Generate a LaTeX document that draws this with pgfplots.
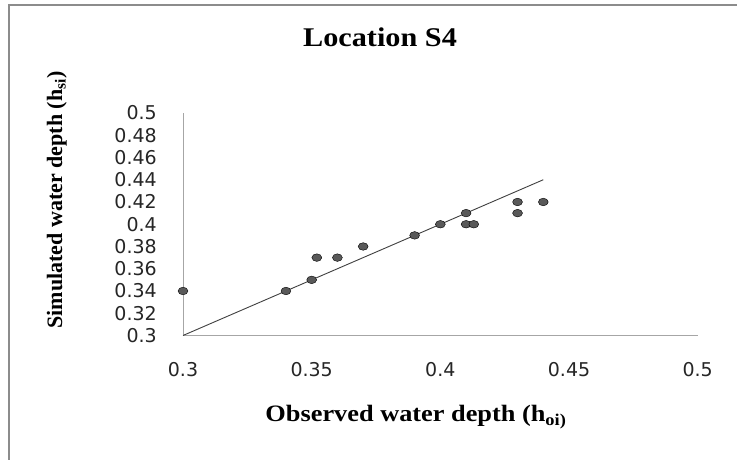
\documentclass[border=0pt]{standalone}
\usepackage{fontspec}
\setmainfont{Liberation Serif}
\newfontfamily\tickfont{DejaVu Sans}
\usepackage{graphicx}
\usepackage{pgfplots}
\pgfplotsset{compat=1.18}
\definecolor{framegray}{HTML}{8C8C8C}
\definecolor{axgray}{HTML}{A6A6A6}
\definecolor{ptgray}{HTML}{595959}
\begin{document}
\begin{tikzpicture}[x=1pt,y=1pt]
\path[use as bounding box] (0,0) rectangle (737,460);
\fill[white] (0,0) rectangle (737,460);
\draw[framegray, line width=2pt] (9,-3) -- (9,455) -- (740,455);
\begin{axis}[
  at={(183pt,124.5pt)}, anchor=south west,
  scale only axis, width=514.7pt, height=222.5pt,
  xmin=0.3, xmax=0.5, ymin=0.3, ymax=0.5,
  xtick={0.3,0.35,0.4,0.45,0.5},
  ytick={0.3,0.32,0.34,0.36,0.38,0.4,0.42,0.44,0.46,0.48,0.5},
  axis x line*=bottom, axis y line*=left,
  axis line style={axgray, line width=1pt, -},
  major tick length=0pt,
  tick label style={font=\tickfont\fontsize{19}{22}\selectfont, text=black!85},
  /pgf/number format/assume math mode=true,
  /pgf/number format/fixed, /pgf/number format/precision=2,
  xticklabel style={anchor=center, yshift=-34.5pt},
  yticklabel style={anchor=east, inner sep=0pt, xshift=-26pt},
  clip=false,
]
\addplot[only marks, mark=*, mark size=3.8pt, mark options={fill=ptgray, draw=none, xscale=1.3}] coordinates {
  (0.30,0.34) (0.34,0.34) (0.35,0.35) (0.352,0.37) (0.36,0.37) (0.37,0.38)
  (0.39,0.39) (0.40,0.40) (0.41,0.41) (0.41,0.40) (0.413,0.40)
  (0.43,0.42) (0.43,0.41) (0.44,0.42)
};
\addplot[no marks, color=black!75, line width=0.9pt] coordinates {(0.3,0.3) (0.44,0.44)};
\end{axis}
\node[anchor=base, inner sep=0pt, font=\bfseries\fontsize{27}{30}\selectfont] at (380,413) {\scalebox{1.12}[1]{Location S4}};
\node[anchor=base, inner sep=0pt, font=\bfseries\fontsize{23.5}{26}\selectfont] at (416,38) {\scalebox{1.12}[1]{Observed water depth (h\textsubscript{oi)}}};
\node[rotate=90, anchor=base, inner sep=0pt, font=\bfseries\fontsize{22}{24}\selectfont] at (62,260) {Simulated water depth (h\textsubscript{si})};
\end{tikzpicture}
\end{document}
